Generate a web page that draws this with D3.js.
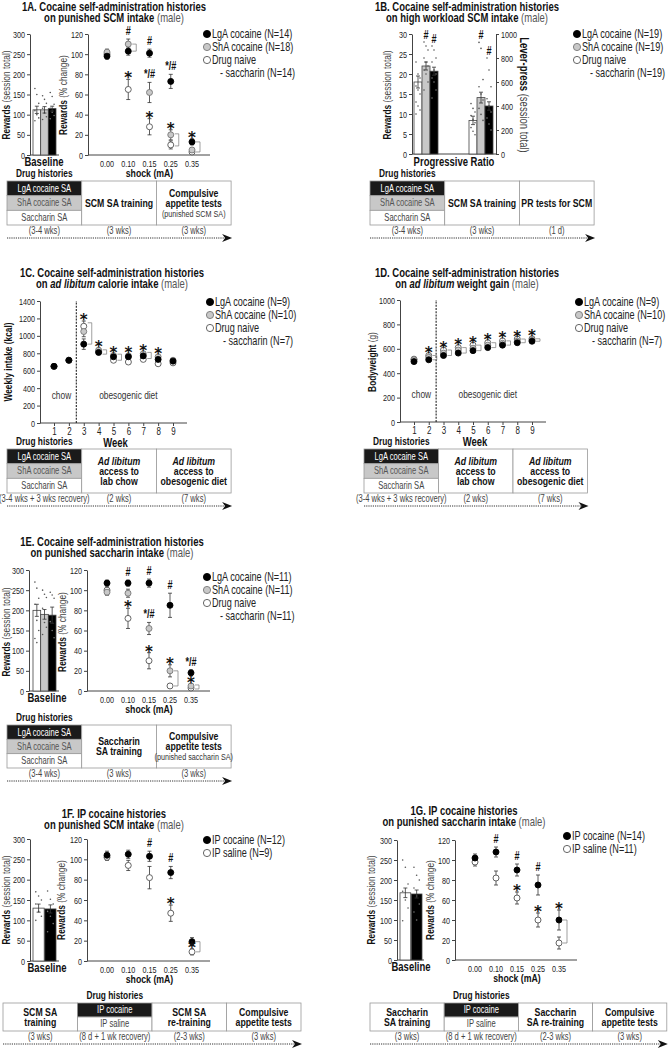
<!DOCTYPE html>
<html>
<head>
<meta charset="utf-8">
<script src="https://cdn.jsdelivr.net/npm/d3@7"></script>
<style>
  body { margin: 0; background: #fff; }
  svg text { font-family: "Liberation Sans", Arial, sans-serif; }
  svg text.sig { font-family: "DejaVu Sans", sans-serif; }
</style>
</head>
<body>
<svg id="fig" width="668" height="1050"></svg>
<script>
// ---- data ----
var shockCats = ["0.00", "0.10", "0.15", "0.25", "0.35"];
var weeks = [1, 2, 3, 4, 5, 6, 7, 8, 9];

// 1A punished SCM (bars: naive, ShA, LgA)
var a_base = [112, 112, 115], a_baseErr = [9, 8, 6];
var a_baseDots = [[165, 150, 128, 110, 100, 92, 85], [147, 138, 128, 116, 104, 95, 88], [155, 145, 126, 116, 106, 98, 90]];
var a_lga = [98, 103, 101, 73, 13], a_lgaErr = [3, 4, 4, 7, 3];
var a_sha = [102, 110, 62, 20, 5], a_shaErr = [3, 5, 10, 5, 2];
var a_nai = [100, 65, 28, 10, 3], a_naiErr = [3, 10, 8, 4, 2];
var a_lgaSig = ["", "", "#", "*/#", "*"], a_shaSig = ["", "#", "*/#", "*", ""], a_naiSig = ["", "*", "*", "", ""];
var a_brackets = [[1, 103, 110], [3, 9, 21], [4, 3, 13]];

// 1B progressive ratio
var b_rew = [18, 22, 20.7], b_rewErr = [1.5, 1, 1], b_rewSig = ["", "#", "#"];
var b_rewDots = [[23, 20, 19, 17, 16, 15, 13, 12, 11, 10], [28, 27, 26, 24, 23, 22, 21, 20, 18, 16], [27, 26, 24, 23, 21, 20, 19, 18, 16, 14]];
var b_lev = [280, 470, 400], b_levErr = [35, 45, 35], b_levSig = ["", "#", "#"];
var b_levDots = [[420, 380, 350, 320, 290, 260, 220, 190, 160], [930, 880, 620, 560, 500, 450, 380, 330, 280], [800, 700, 560, 460, 400, 350, 300, 250, 200]];

// 1C weekly intake (kcal)
var c_lga = [650, 720, 905, 810, 760, 760, 770, 730, 710];
var c_sha = [650, 720, 1050, 835, 775, 770, 795, 760, 720];
var c_nai = [650, 720, 1110, 820, 720, 700, 730, 680, 690];
var c_err = [20, 20, 60, 25, 20, 20, 20, 20, 15];
var c_sig = ["", "", "*", "*", "*", "*", "*", "*", ""];
var c_brackets = [[2, 905, 1150], [3, 790, 840], [4, 720, 790], [6, 740, 810]];

// 1D bodyweight (g)
var d_lga = [495, 510, 545, 565, 585, 610, 630, 650, 662];
var d_sha = [510, 530, 565, 590, 605, 630, 645, 662, 670];
var d_nai = [515, 545, 590, 610, 630, 650, 665, 680, 682];
var d_sig = ["", "*", "*", "*", "*", "*", "*", "*", "*"];
var d_brackets = [[1, 510, 545], [2, 545, 590], [3, 565, 610], [4, 585, 630], [5, 610, 650], [6, 630, 665], [7, 650, 680], [8, 662, 682]];

// 1E punished saccharin
var e_base = [200, 190, 188], e_baseErr = [15, 12, 20];
var e_baseDots = [[270, 255, 230, 215, 175, 150, 130, 120], [250, 240, 232, 205, 170, 158, 140], [245, 238, 230, 172, 150, 132]];
var e_lga = [107, 107, 107, 85, 18], e_lgaErr = [3, 3, 4, 12, 3];
var e_sha = [98, 97, 62, 20, 5], e_shaErr = [3, 4, 6, 6, 2];
var e_nai = [100, 72, 30, 5, 3], e_naiErr = [3, 10, 8, 2, 2];
var e_lgaSig = ["", "#", "#", "#", "*/#"], e_shaSig = ["", "", "*/#", "*", "*"], e_naiSig = ["", "*", "*", "", ""];
var e_brackets = [[3, 5, 20], [4, 2, 6]];

// 1F IP cocaine, punished SCM (bars: saline, cocaine)
var f_base = [130, 128], f_baseErr = [10, 10];
var f_baseDots = [[170, 160, 150, 140, 122, 110, 100], [172, 152, 140, 122, 110, 92, 72]];
var f_coc = [104, 105, 103, 87, 19], f_cocErr = [4, 4, 5, 6, 4];
var f_sal = [102, 94, 82, 47, 9], f_salErr = [3, 5, 11, 8, 3];
var f_cocSig = ["", "", "#", "#", ""], f_salSig = ["", "", "", "*", "*"];
var f_brackets = [[4, 9, 19]];

// 1G IP cocaine, punished saccharin
var g_base = [168, 165], g_baseErr = [12, 10];
var g_baseDots = [[250, 232, 190, 172, 150, 130, 98], [232, 212, 200, 180, 160, 140, 120, 100]];
var g_coc = [102, 108, 90, 75, 40], g_cocErr = [4, 5, 6, 10, 10];
var g_sal = [98, 82, 62, 40, 17], g_salErr = [4, 7, 6, 7, 6];
var g_cocSig = ["", "#", "#", "#", "*"], g_salSig = ["", "", "*", "*", ""];
var g_brackets = [[4, 17, 40]];

// ---- drawing ----
var svg = d3.select("#fig");
var st = {
  lga: { fill: "#000", stroke: "#000" },
  sha: { fill: "#c8c8c8", stroke: "#777" },
  nai: { fill: "#fff", stroke: "#555" }
};

function txt(x, y, s, o) {
  o = o || {};
  return svg.append("text").attr("x", x).attr("y", y).text(s)
    .attr("font-size", o.size || 10)
    .attr("font-weight", o.bold ? "bold" : "normal")
    .attr("font-style", o.italic ? "italic" : "normal")
    .attr("text-anchor", o.anchor || "middle")
    .attr("fill", o.fill || "#222");
}

function title(cx, y, line1, line2) {
  [line1, line2].forEach(function (segs, i) {
    var t = svg.append("text").attr("x", cx).attr("y", y + i * 11.5)
      .attr("text-anchor", "middle").attr("font-size", 12.5);
    segs.forEach(function (s) {
      t.append("tspan").text(s[0])
        .attr("font-weight", s[1] === "n" ? "normal" : "bold")
        .attr("font-style", s[1] === "i" ? "italic" : "normal")
        .attr("fill", s[1] === "n" ? "#555" : "#111");
    });
  });
}

function yLabel(x, cy, bold, rest, rot, size) {
  var t = svg.append("text").attr("transform", "translate(" + x + "," + cy + ") rotate(" + (rot || -90) + ")")
    .attr("text-anchor", "middle").attr("font-size", size || 11);
  t.append("tspan").text(bold).attr("font-weight", "bold").attr("fill", "#111");
  t.append("tspan").text(rest).attr("fill", "#444");
}

function styleAxis(g) {
  g.attr("font-size", 9.5);
  g.select(".domain").attr("stroke", "#444");
  g.selectAll(".tick line").attr("stroke", "#444");
  g.selectAll(".tick text").attr("fill", "#222");
}

function yAxis(x, y, ticks, right) {
  var ax = right ? d3.axisRight(y) : d3.axisLeft(y);
  var g = svg.append("g").attr("transform", "translate(" + x + ",0)")
    .call(ax.tickValues(ticks).tickFormat(d3.format("d")).tickSize(3).tickSizeOuter(0).tickPadding(2));
  styleAxis(g);
}

function errBar(x, y, v, e) {
  svg.append("line").attr("x1", x).attr("x2", x).attr("y1", y(v - e)).attr("y2", y(v + e)).attr("stroke", "#333").attr("stroke-width", 0.8);
  [v - e, v + e].forEach(function (k) {
    svg.append("line").attr("x1", x - 2).attr("x2", x + 2).attr("y1", y(k)).attr("y2", y(k)).attr("stroke", "#333").attr("stroke-width", 0.8);
  });
}

function sigText(x, yPos, s) {
  if (!s) return;
  if (s === "*") {
    txt(x, yPos + 8, s, { size: 15, bold: true, fill: "#111" }).attr("class", "sig nc");
  } else {
    txt(x, yPos, s, { size: 12, bold: true, fill: "#111" });
  }
}

function bracket(x, y, lo, hi) {
  svg.append("path")
    .attr("d", "M" + (x + 4) + "," + y(hi) + "H" + (x + 8) + "V" + y(lo) + "H" + (x + 4))
    .attr("fill", "none").attr("stroke", "#777").attr("stroke-width", 0.7);
}

// bar group: x = band scale, vals/errs/dots per bar
function bars(x, y, vals, errs, keys, dots, sig) {
  vals.forEach(function (v, i) {
    var bx = x(i), bw = x.bandwidth(), cx = bx + bw / 2;
    svg.append("rect").attr("x", bx).attr("y", y(v)).attr("width", bw).attr("height", y(0) - y(v))
      .attr("fill", st[keys[i]].fill).attr("stroke", "#444").attr("stroke-width", 0.8);
    if (dots) dots[i].forEach(function (d, j) {
      svg.append("circle").attr("cx", cx + ((j % 3) - 1) * bw * 0.25).attr("cy", y(d)).attr("r", 0.8)
        .attr("fill", keys[i] === "lga" && d < v ? "#777" : "#555");
    });
    errBar(cx, y, v, errs[i]);
    if (sig && sig[i]) {
      var top = dots ? d3.max(dots[i]) : v + errs[i];
      sigText(cx, y(Math.max(top, v + errs[i])) - 3, sig[i]);
    }
  });
}

function points(x, y, series) {
  series.forEach(function (s) {
    s.vals.forEach(function (v, i) {
      errBar(x(x.domain()[i]), y, v, s.errs[i]);
    });
  });
  series.forEach(function (s) {
    s.vals.forEach(function (v, i) {
      svg.append("circle").attr("cx", x(x.domain()[i])).attr("cy", y(v)).attr("r", 3)
        .attr("fill", st[s.key].fill).attr("stroke", st[s.key].stroke).attr("stroke-width", 0.9);
    });
  });
  series.forEach(function (s) {
    if (!s.sig) return;
    s.vals.forEach(function (v, i) {
      sigText(x(x.domain()[i]), y(v + s.errs[i]) - 4, s.sig[i]);
    });
  });
}

function shockPlot(c) {
  yAxis(c.axisX, c.y, [0, 20, 40, 60, 80, 100, 120]);
  svg.append("line").attr("x1", c.axisX).attr("x2", c.axisEnd).attr("y1", c.y(0)).attr("y2", c.y(0)).attr("stroke", "#444");
  c.x.domain().forEach(function (d) {
    txt(c.x(d), c.y(0) + 12, d, { size: 9.5 });
  });
  txt((c.x.range()[0] + c.x.range()[1]) / 2, c.y(0) + 22, "shock (mA)", { size: 11.5, bold: true, fill: "#111" });
  points(c.x, c.y, c.series);
  c.brackets.forEach(function (b) { bracket(c.x(c.x.domain()[b[0]]), c.y, b[1], b[2]); });
}

function weekPlot(c) {
  yAxis(c.axisX, c.y, c.ticks);
  var g = svg.append("g").attr("transform", "translate(0," + c.y(0) + ")")
    .call(d3.axisBottom(c.x).tickSize(3).tickSizeOuter(0).tickPadding(2));
  styleAxis(g);
  g.select(".domain").attr("d", "M" + c.axisX + ",0H" + c.axisEnd);
  g.selectAll(".tick text").attr("font-size", 10.5);
  txt((c.axisX + c.axisEnd) / 2 + 2, c.y(0) + 24, "Week", { size: 12.5, bold: true, fill: "#111" });
  var dx = (c.x(2) + c.x(3)) / 2;
  svg.append("line").attr("x1", dx).attr("x2", dx).attr("y1", c.y(0)).attr("y2", c.y.range()[1])
    .attr("stroke", "#222").attr("stroke-width", 1.1).attr("stroke-dasharray", "2,1.2");
  txt((c.x(1) + c.x(2)) / 2, c.y(0) - 24, "chow", { size: 11, fill: "#333" });
  txt((c.x(3) + c.x(9)) / 2, c.y(0) - 24, "obesogenic diet", { size: 11, fill: "#333" });
  points(c.x, c.y, c.series);
  c.brackets.forEach(function (b) { bracket(c.x(c.x.domain()[b[0]]), c.y, b[1], b[2]); });
  c.sig.forEach(function (s, i) {
    var top = d3.max(c.series, function (k) { return k.vals[i] + k.errs[i]; });
    sigText(c.x(c.x.domain()[i]), c.y(top) - 4, s);
  });
}

function legend(x, y, items) {
  items.forEach(function (it, i) {
    var yy = y + i * 13;
    if (it[1]) svg.append("circle").attr("cx", x).attr("cy", yy).attr("r", 3.6)
      .attr("fill", st[it[1]].fill).attr("stroke", st[it[1]].stroke).attr("stroke-width", 0.9);
    txt(x + (it[1] ? 5 : 13), yy + 4, it[0], { size: 12, anchor: "start", fill: "#222" });
  });
}

// schedule table below each panel
function table(c) {
  var h = c.h, w = c.w;
  c.cols.forEach(function (col, i) {
    var x0 = c.x + i * w;
    if (col.drug) {
      var rh = h / col.drug.length;
      col.drug.forEach(function (r, j) {
        var fill = r[1] === "k" ? "#1a1a1a" : r[1] === "g" ? "#c8c8c8" : "#fff";
        var tf = r[1] === "k" ? "#fff" : r[1] === "g" ? "#555" : "#444";
        svg.append("rect").attr("x", x0).attr("y", c.y + j * rh).attr("width", w).attr("height", rh)
          .attr("fill", fill).attr("stroke", "#999").attr("stroke-width", 0.8);
        txt(x0 + w / 2, c.y + j * rh + rh / 2 + 3.5, r[0], { size: 10, fill: tf });
      });
      txt(x0 + w / 2, c.y - 4, "Drug histories", { size: 11, bold: true, fill: "#111" });
    } else {
      svg.append("rect").attr("x", x0).attr("y", c.y).attr("width", w).attr("height", h)
        .attr("fill", "#fff").attr("stroke", "#999").attr("stroke-width", 0.8);
      var n = col.lines.length, lh = 10;
      col.lines.forEach(function (l, j) {
        var small = l[1] === "s";
        txt(x0 + w / 2, c.y + h / 2 - (n - 1) * lh / 2 + j * lh + 4, l[0],
          { size: small ? 9.5 : 11.5, bold: !small, italic: l[1] === "bi", fill: small ? "#333" : "#111" });
      });
    }
    txt(x0 + w / 2, c.y + h + 9, c.durs[i], { size: 10, fill: "#444" });
  });
  var ay = c.y + h + 13, x1 = c.x + c.cols.length * w;
  svg.append("line").attr("x1", c.x).attr("x2", x1 - 6).attr("y1", ay).attr("y2", ay)
    .attr("stroke", "#333").attr("stroke-width", 1).attr("stroke-dasharray", "1.2,1");
  svg.append("path").attr("d", "M" + (x1 - 9) + "," + (ay - 4) + "L" + (x1 + 1) + "," + ay + "L" + (x1 - 9) + "," + (ay + 4) + "L" + (x1 - 6) + "," + ay + "Z")
    .attr("fill", "#111");
}

var drug3 = { drug: [["LgA cocaine SA", "k"], ["ShA cocaine SA", "g"], ["Saccharin SA", "w"]] };
var drugIP = { drug: [["IP cocaine", "k"], ["IP saline", "w"]] };
var keys3 = ["nai", "sha", "lga"], keys2 = ["nai", "lga"];
var tot = [0, 50, 100, 150, 200, 250, 300];

// ===== 1A =====
title(114, 11, [["1A. Cocaine self-administration histories", "b"]], [["on punished SCM intake ", "b"], ["(male)", "n"]]);
(function () {
  var y = d3.scaleLinear().domain([0, 300]).range([155, 34]);
  yAxis(30, y, tot);
  var x = d3.scaleBand().domain([0, 1, 2]).range([33, 56]);
  svg.append("line").attr("x1", 30).attr("x2", 59).attr("y1", y(0)).attr("y2", y(0)).attr("stroke", "#444");
  bars(x, y, a_base, a_baseErr, keys3, a_baseDots);
  txt(44, 166, "Baseline", { size: 12.5, bold: true, fill: "#111" });
  yLabel(10, 95, "Rewards", " (session  total)");
  var y2 = d3.scaleLinear().domain([0, 120]).range([155, 34]);
  shockPlot({ axisX: 88, axisEnd: 210, y: y2, x: d3.scalePoint().domain(shockCats).range([107, 192]),
    series: [{ key: "nai", vals: a_nai, errs: a_naiErr, sig: a_naiSig }, { key: "sha", vals: a_sha, errs: a_shaErr, sig: a_shaSig }, { key: "lga", vals: a_lga, errs: a_lgaErr, sig: a_lgaSig }],
    brackets: a_brackets });
  yLabel(67, 95, "Rewards", " (% change)");
  legend(207, 34, [["LgA cocaine (N=14)", "lga"], ["ShA cocaine (N=18)", "sha"], ["Drug naive", "nai"], ["- saccharin (N=14)", null]]);
  table({ x: 7, y: 181, w: 74.7, h: 44, durs: ["(3-4 wks)", "(3 wks)", "(3 wks)"],
    cols: [drug3, { lines: [["SCM SA training", "b"]] }, { lines: [["Compulsive", "b"], ["appetite tests", "b"], ["(punished SCM SA)", "s"]] }] });
})();

// ===== 1B =====
title(467, 11, [["1B. Cocaine self-administration histories", "b"]], [["on high workload SCM intake ", "b"], ["(male)", "n"]]);
(function () {
  var y = d3.scaleLinear().domain([0, 30]).range([154, 34]);
  var yr = d3.scaleLinear().domain([0, 1000]).range([154, 34]);
  yAxis(412, y, [0, 5, 10, 15, 20, 25, 30]);
  yAxis(496, yr, [0, 200, 400, 600, 800, 1000], true);
  svg.append("line").attr("x1", 412).attr("x2", 496).attr("y1", 154).attr("y2", 154).attr("stroke", "#444");
  bars(d3.scaleBand().domain([0, 1, 2]).range([414, 438]), y, b_rew, b_rewErr, keys3, b_rewDots, b_rewSig);
  bars(d3.scaleBand().domain([0, 1, 2]).range([469, 493]), yr, b_lev, b_levErr, keys3, b_levDots, b_levSig);
  txt(454, 166, "Progressive Ratio", { size: 12.5, bold: true, fill: "#111" });
  yLabel(391, 95, "Rewards", " (session  total)");
  yLabel(520, 95, "Lever-press", " (session  total)", 90, 12.5);
  legend(577, 34, [["LgA cocaine (N=19)", "lga"], ["ShA cocaine (N=19)", "sha"], ["Drug naive", "nai"], ["- saccharin (N=19)", null]]);
  table({ x: 370, y: 181, w: 74.7, h: 44, durs: ["(3-4 wks)", "(3 wks)", "(1 d)"],
    cols: [drug3, { lines: [["SCM SA training", "b"]] }, { lines: [["PR tests for SCM", "b"]] }] });
})();

// ===== 1C =====
title(112, 277, [["1C. Cocaine self-administration histories", "b"]], [["on ", "b"], ["ad libitum", "i"], [" calorie intake ", "b"], ["(male)", "n"]]);
(function () {
  var y = d3.scaleLinear().domain([0, 1400]).range([423, 301]);
  weekPlot({ axisX: 40, axisEnd: 187, y: y, ticks: [0, 200, 400, 600, 800, 1000, 1200, 1400],
    x: d3.scalePoint().domain(weeks).range([54, 173]),
    series: [{ key: "nai", vals: c_nai, errs: c_err }, { key: "sha", vals: c_sha, errs: c_err }, { key: "lga", vals: c_lga, errs: c_err }],
    brackets: c_brackets, sig: c_sig });
  yLabel(12, 362, "Weekly intake (kcal)", "");
  legend(210, 302, [["LgA cocaine (N=9)", "lga"], ["ShA cocaine (N=10)", "sha"], ["Drug naive", "nai"], ["- saccharin (N=7)", null]]);
  table({ x: 7, y: 449, w: 74.7, h: 44, durs: ["(3-4 wks + 3 wks recovery)", "(2 wks)", "(7 wks)"],
    cols: [drug3, { lines: [["Ad libitum", "bi"], ["access to", "b"], ["lab chow", "b"]] }, { lines: [["Ad libitum", "bi"], ["access to", "b"], ["obesogenic diet", "b"]] }] });
})();

// ===== 1D =====
title(467, 277, [["1D. Cocaine self-administration histories", "b"]], [["on ", "b"], ["ad libitum", "i"], [" weight gain ", "b"], ["(male)", "n"]]);
(function () {
  var y = d3.scaleLinear().domain([0, 1000]).range([422, 300]);
  var e = weeks.map(function () { return 12; });
  weekPlot({ axisX: 400, axisEnd: 546, y: y, ticks: [0, 200, 400, 600, 800, 1000],
    x: d3.scalePoint().domain(weeks).range([414, 532]),
    series: [{ key: "nai", vals: d_nai, errs: e }, { key: "sha", vals: d_sha, errs: e }, { key: "lga", vals: d_lga, errs: e }],
    brackets: d_brackets, sig: d_sig });
  yLabel(376, 362, "Bodyweight", " (g)");
  legend(579, 302, [["LgA cocaine (N=9)", "lga"], ["ShA cocaine (N=10)", "sha"], ["Drug naive", "nai"], ["- saccharin (N=7)", null]]);
  table({ x: 364, y: 449, w: 74.5, h: 44, durs: ["(3-4 wks + 3 wks recovery)", "(2 wks)", "(7 wks)"],
    cols: [drug3, { lines: [["Ad libitum", "bi"], ["access to", "b"], ["lab chow", "b"]] }, { lines: [["Ad libitum", "bi"], ["access to", "b"], ["obesogenic diet", "b"]] }] });
})();

// ===== 1E =====
title(112, 546, [["1E. Cocaine self-administration histories", "b"]], [["on punished saccharin intake ", "b"], ["(male)", "n"]]);
(function () {
  var y = d3.scaleLinear().domain([0, 300]).range([691, 570]);
  yAxis(29, y, tot);
  svg.append("line").attr("x1", 29).attr("x2", 59).attr("y1", y(0)).attr("y2", y(0)).attr("stroke", "#444");
  bars(d3.scaleBand().domain([0, 1, 2]).range([33, 56]), y, e_base, e_baseErr, keys3, e_baseDots);
  txt(47, 702, "Baseline", { size: 12.5, bold: true, fill: "#111" });
  yLabel(10, 632, "Rewards", " (session  total)");
  shockPlot({ axisX: 87, axisEnd: 210, y: d3.scaleLinear().domain([0, 120]).range([691, 570]),
    x: d3.scalePoint().domain(shockCats).range([107, 191]),
    series: [{ key: "nai", vals: e_nai, errs: e_naiErr, sig: e_naiSig }, { key: "sha", vals: e_sha, errs: e_shaErr, sig: e_shaSig }, { key: "lga", vals: e_lga, errs: e_lgaErr, sig: e_lgaSig }],
    brackets: e_brackets });
  yLabel(66, 632, "Rewards", " (% change)");
  legend(207, 577, [["LgA cocaine (N=11)", "lga"], ["ShA cocaine (N=11)", "sha"], ["Drug naive", "nai"], ["- saccharin (N=11)", null]]);
  table({ x: 7, y: 725, w: 74.7, h: 43, durs: ["(3-4 wks)", "(3 wks)", "(3 wks)"],
    cols: [drug3, { lines: [["Saccharin", "b"], ["SA training", "b"]] }, { lines: [["Compulsive", "b"], ["appetite tests", "b"], ["(punished saccharin SA)", "s"]] }] });
})();

// ===== 1F =====
title(114, 818, [["1F. IP cocaine histories", "b"]], [["on punished SCM intake ", "b"], ["(male)", "n"]]);
(function () {
  var y = d3.scaleLinear().domain([0, 300]).range([961, 839]);
  yAxis(30, y, tot);
  svg.append("line").attr("x1", 30).attr("x2", 59).attr("y1", y(0)).attr("y2", y(0)).attr("stroke", "#444");
  bars(d3.scaleBand().domain([0, 1]).range([33, 56]).paddingInner(0.05), y, f_base, f_baseErr, keys2, f_baseDots);
  txt(47, 972, "Baseline", { size: 12.5, bold: true, fill: "#111" });
  yLabel(10, 900, "Rewards", " (session  total)");
  shockPlot({ axisX: 87, axisEnd: 210, y: d3.scaleLinear().domain([0, 120]).range([961, 839]),
    x: d3.scalePoint().domain(shockCats).range([107, 192]),
    series: [{ key: "nai", vals: f_sal, errs: f_salErr, sig: f_salSig }, { key: "lga", vals: f_coc, errs: f_cocErr, sig: f_cocSig }],
    brackets: f_brackets });
  yLabel(65, 900, "Rewards", " (% change)");
  legend(207, 840, [["IP cocaine (N=12)", "lga"], ["IP saline (N=9)", "nai"]]);
  table({ x: 3, y: 1003, w: 74.5, h: 28, durs: ["(3 wks)", "(8 d + 1 wk recovery)", "(2-3 wks)", "(3 wks)"],
    cols: [{ lines: [["SCM SA", "b"], ["training", "b"]] }, drugIP, { lines: [["SCM SA", "b"], ["re-training", "b"]] }, { lines: [["Compulsive", "b"], ["appetite tests", "b"]] }] });
})();

// ===== 1G =====
title(464, 815, [["1G. IP cocaine histories", "b"]], [["on punished saccharin intake ", "b"], ["(male)", "n"]]);
(function () {
  var y = d3.scaleLinear().domain([0, 300]).range([960, 840]);
  yAxis(397, y, tot);
  svg.append("line").attr("x1", 397).attr("x2", 424).attr("y1", y(0)).attr("y2", y(0)).attr("stroke", "#444");
  bars(d3.scaleBand().domain([0, 1]).range([400, 422]).paddingInner(0.05), y, g_base, g_baseErr, keys2, g_baseDots);
  txt(411, 971, "Baseline", { size: 12.5, bold: true, fill: "#111" });
  yLabel(375, 900, "Rewards", " (session  total)");
  shockPlot({ axisX: 455, axisEnd: 577, y: d3.scaleLinear().domain([0, 120]).range([960, 840]),
    x: d3.scalePoint().domain(shockCats).range([475, 559]),
    series: [{ key: "nai", vals: g_sal, errs: g_salErr, sig: g_salSig }, { key: "lga", vals: g_coc, errs: g_cocErr, sig: g_cocSig }],
    brackets: g_brackets });
  yLabel(434, 900, "Rewards", " (% change)");
  legend(567, 836, [["IP cocaine (N=14)", "lga"], ["IP saline (N=11)", "nai"]]);
  table({ x: 370, y: 1003, w: 74.2, h: 28, durs: ["(3 wks)", "(8 d + 1 wk recovery)", "(2-3 wks)", "(3 wks)"],
    cols: [{ lines: [["Saccharin", "b"], ["SA training", "b"]] }, drugIP, { lines: [["Saccharin", "b"], ["SA re-training", "b"]] }, { lines: [["Compulsive", "b"], ["appetite tests", "b"]] }] });
})();

// condensed lettering, like the original figure's narrow typeface
var K = 0.76;
svg.selectAll("text").each(function () {
  var t = d3.select(this), tr = t.attr("transform");
  if (t.classed("nc")) return;
  if (tr) t.attr("transform", tr + " scale(" + K + ",1)");
  else {
    var x = +t.attr("x") || 0;
    t.attr("transform", "translate(" + (x * (1 - K)) + ",0) scale(" + K + ",1)");
  }
});
</script>
</body>
</html>
